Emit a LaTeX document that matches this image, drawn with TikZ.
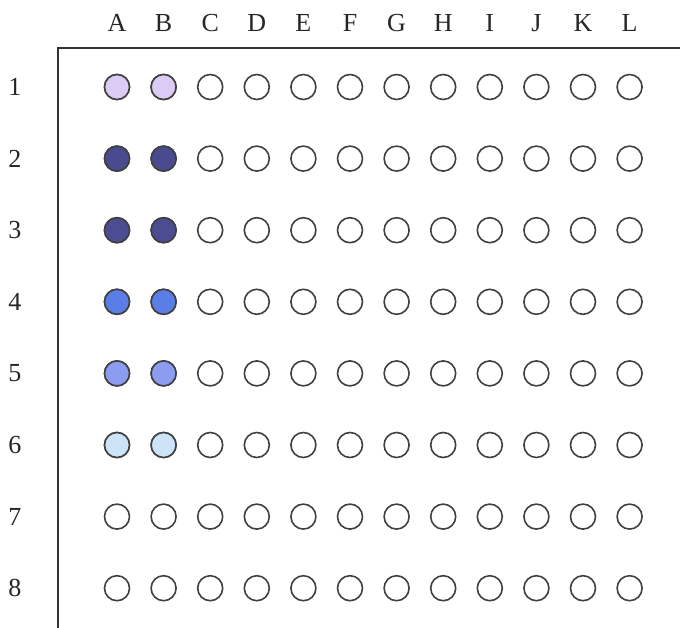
\documentclass[tikz,border=0pt]{standalone}
\usepackage{fontspec}
\setmainfont{Liberation Serif}
\begin{document}
\begin{tikzpicture}[x=1pt,y=-1pt,
  well/.style={circle,draw=black!75,line width=1.6pt,minimum size=25pt,inner sep=0pt},
  lbl/.style={font=\fontsize{26}{30}\selectfont,text=black!85,inner sep=0pt},
  frame/.style={draw=black!80,line width=1.6pt}]
\useasboundingbox (0,0) rectangle (680,628);
\definecolor{cA}{HTML}{DCCBF5}
\definecolor{cB}{HTML}{4A4A8E}
\definecolor{cC}{HTML}{4C4C92}
\definecolor{cD}{HTML}{5A7EE6}
\definecolor{cE}{HTML}{8C9CF0}
\definecolor{cF}{HTML}{CCE3F8}
\coordinate (c0) at (680,48);
\coordinate (c1) at (58,48);
\coordinate (c2) at (58,628);
\draw[frame] (c0) -- (c1) -- (c2);
\foreach \L [count=\i from 0] in {A,B,C,D,E,F,G,H,I,J,K,L} {
  \node[lbl] (h\L) at (117+46.6*\i,23) {\L};
}
\foreach \r [count=\j from 0] in {1,...,8} {
  \node[lbl] (r\r) at (15,87+71.6*\j) {\r};
  \foreach \L [count=\i from 0] in {A,B,C,D,E,F,G,H,I,J,K,L} {
    \node[well,fill=white] (\L\r) at (117+46.6*\i,87+71.6*\j) {};
  }
}
\foreach \r/\c in {1/cA,2/cB,3/cC,4/cD,5/cE,6/cF} {
  \node[well,fill=\c] at (A\r) {};
  \node[well,fill=\c] at (B\r) {};
}
\end{tikzpicture}
\end{document}
